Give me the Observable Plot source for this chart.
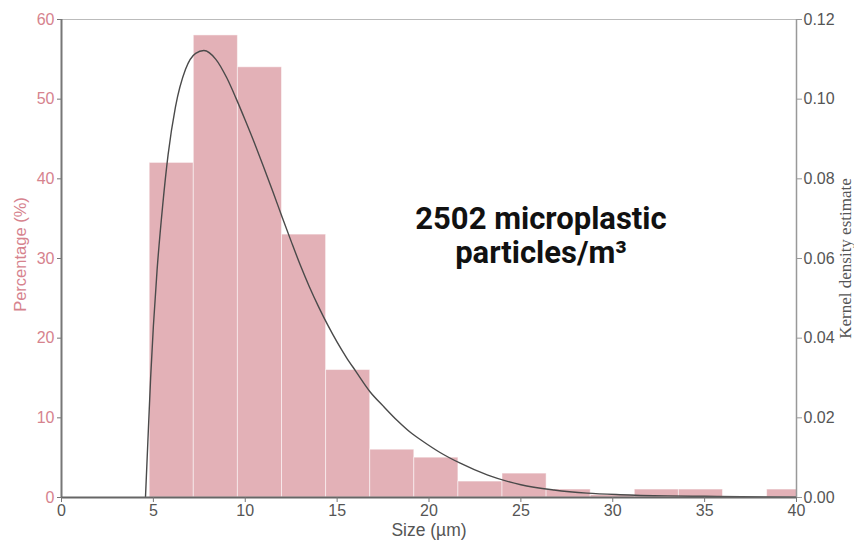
<!DOCTYPE html>
<html>
<head>
<meta charset="utf-8">
<script src="https://cdn.jsdelivr.net/npm/d3@7"></script>
<script src="https://cdn.jsdelivr.net/npm/@observablehq/plot@0.6"></script>
<style>
  html, body { margin: 0; padding: 0; background: #fff; }
  #chart svg { display: block; }
</style>
</head>
<body>
<div id="chart"></div>
<script>
// Histogram bins (Size, µm) and percentage of particles
const binEdges = [4.8, 7.2, 9.6, 12, 14.4, 16.8, 19.2, 21.6, 24, 26.4, 28.8, 31.2, 33.6, 36, 38.4, 40.8];
const percentages = [42, 58, 54, 33, 16, 6, 5, 2, 3, 1, 0.3, 1, 1, 0, 1];

// Kernel density estimate
const kdeSize =    [4.57, 4.7, 4.85, 5.0, 5.2, 5.5, 5.8, 6.2, 6.75, 7.3, 7.75, 8.4, 9.0, 9.5, 10.0, 10.5, 11.0, 11.5, 12.0, 12.5, 13.0, 13.5, 14.0, 14.5, 15.0, 15.5, 16.0, 16.8, 17.5, 18.3, 19.0, 19.7, 20.6, 21.7, 23.2, 25.0, 26.8, 28.6, 30.4, 33.0, 35.0, 37.0, 40.0];
const kdeDensity = [0, 0.014, 0.030, 0.043, 0.057, 0.073, 0.086, 0.098, 0.1075, 0.1115, 0.1122, 0.1100, 0.1053, 0.1002, 0.0947, 0.0890, 0.0830, 0.0768, 0.0705, 0.0643, 0.0583, 0.0528, 0.0478, 0.0432, 0.0390, 0.0352, 0.0318, 0.0265, 0.0230, 0.0192, 0.0163, 0.0140, 0.0113, 0.0086, 0.0056, 0.0032, 0.0019, 0.0011, 0.0007, 0.0004, 0.0003, 0.0002, 0.0001];

const xTicks = [0, 5, 10, 15, 20, 25, 30, 35, 40];
const pctTicks = [0, 10, 20, 30, 40, 50, 60];
const densityPerPct = 0.002; // 0.12 density ↔ 60 %

const annotation = "2502 microplastic\nparticles/m³";

const bars = percentages.map((p, i) => ({x1: binEdges[i], x2: binEdges[i + 1], p}));
const kde = kdeSize.map((s, i) => ({s, d: kdeDensity[i]}));

const pink = "#d6838e";
const grayText = "#555";

const chart = Plot.plot({
  width: 854,
  height: 542,
  marginLeft: 61,
  marginRight: 58,
  marginTop: 19,
  marginBottom: 45,
  style: {fontFamily: "'Liberation Sans', Arial, sans-serif", fontSize: "16px", background: "#fff"},
  x: {domain: [0, 40]},
  y: {domain: [0, 60]},
  marks: [
    Plot.rectY(bars, {x1: "x1", x2: "x2", y: "p", fill: "#e3b1b7", stroke: "#fff", strokeOpacity: 0.5, strokeWidth: 1, clip: true}),
    Plot.line(kde, {x: "s", y: d => d.d / densityPerPct, curve: "monotone-x", stroke: "#4a4a4a", strokeWidth: 1.4, clip: true}),
    Plot.ruleY([60], {stroke: "#bbb", strokeWidth: 1}),
    Plot.ruleX([40], {stroke: "#999", strokeWidth: 1.5}),
    Plot.ruleX([0], {stroke: "#777", strokeWidth: 2}),
    Plot.ruleY([0], {stroke: "#666", strokeWidth: 2}),
    Plot.axisX({ticks: xTicks, tickSize: 5, tickPadding: 2, fill: grayText, stroke: "#777", fontSize: 16, label: null}),
    Plot.axisY({anchor: "left", ticks: pctTicks, tickSize: 4, tickPadding: 3, fill: pink, stroke: "#777", fontSize: 16, label: null}),
    Plot.axisY({anchor: "right", ticks: pctTicks, tickSize: 5, tickPadding: 2, fill: grayText, stroke: "#999", fontSize: 16, label: null,
      tickFormat: v => (v * densityPerPct).toFixed(2)}),
    Plot.text(["Size (µm)"], {frameAnchor: "bottom", lineAnchor: "middle", textAnchor: "middle", dy: 33, fill: grayText, fontSize: 17.5}),
    Plot.text(["Percentage (%)"], {frameAnchor: "left", lineAnchor: "middle", textAnchor: "middle", dx: -41, dy: -4, rotate: -90, fill: pink, fontSize: 16.5}),
    Plot.text(["Kernel density estimate"], {frameAnchor: "right", lineAnchor: "middle", textAnchor: "middle", dx: 49, rotate: -90, fill: grayText, fontSize: 17, fontFamily: "'Liberation Serif', 'Times New Roman', serif"}),
    Plot.text([annotation], {frameAnchor: "top", lineAnchor: "middle", textAnchor: "middle", dx: 112, dy: 216, fill: "#111", fontSize: 31, fontWeight: "bold", fontFamily: "Roboto, sans-serif", lineHeight: 1.1})
  ]
});
document.getElementById("chart").appendChild(chart);
</script>
</body>
</html>
